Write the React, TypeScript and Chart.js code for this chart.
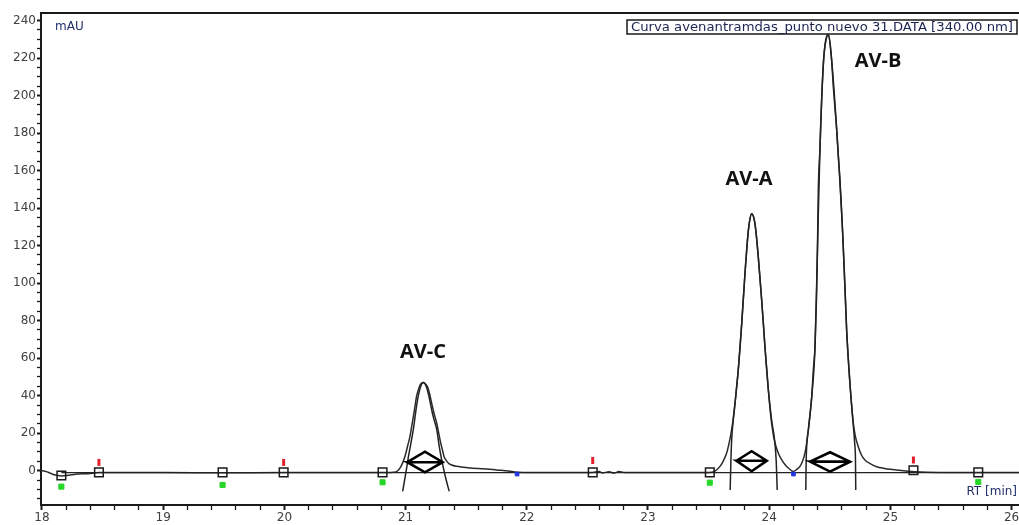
import React, { useEffect, useRef } from 'react';
import { Chart, registerables } from 'chart.js';

Chart.register(...registerables);

// ---------- data ----------
const traceX = [
  17.992, 18.0, 18.05, 18.1, 18.16, 18.22, 18.3, 18.38, 18.47, 18.7, 19.0, 19.5, 20.0, 20.5, 20.8, 20.9, 20.93,
  20.96, 20.995, 21.02, 21.036, 21.05, 21.064, 21.078, 21.09, 21.105, 21.12, 21.135, 21.146, 21.16, 21.18, 21.2, 21.215, 21.235, 21.257, 21.275, 21.29,
  21.305, 21.317, 21.335, 21.352, 21.38, 21.42, 21.48, 21.53, 21.6, 21.67, 21.75, 21.85, 21.92, 22.2, 22.54, 22.6, 22.62, 22.68, 22.72, 22.76, 22.8, 23.2, 23.5, 23.55,
  23.594, 23.62, 23.649, 23.67, 23.69, 23.705, 23.718, 23.73, 23.745, 23.76, 23.773, 23.787, 23.8, 23.815, 23.828, 23.842, 23.856, 23.87, 23.883, 23.897,
  23.91, 23.924, 23.938, 23.952, 23.965, 23.98, 23.993, 24.006, 24.02, 24.037, 24.056, 24.08, 24.103, 24.13, 24.158, 24.2, 24.23, 24.254, 24.275, 24.295,
  24.31, 24.323, 24.337, 24.351, 24.364, 24.378, 24.39, 24.398, 24.405, 24.419, 24.433, 24.447, 24.46, 24.474, 24.488, 24.5, 24.515, 24.529, 24.543, 24.557,
  24.57, 24.584, 24.596, 24.606, 24.615, 24.627, 24.639, 24.652, 24.666, 24.68, 24.694, 24.712, 24.735, 24.76, 24.79, 24.84, 24.887, 24.95, 24.997, 25.05,
  25.2, 25.4, 25.72, 26.061,
];
const traceY = [
  0, 0, -0.8, -2.2, -2.8, -2.4, -1.8, -1.6, -1.0, -1.0, -1.0, -1.1, -1.0, -1.0, -1.0, -0.8, -0.3,
  2, 7.6, 14, 18.2, 23.5, 28.8, 34.5, 39.5, 43, 45.7, 46.8, 47, 46.5, 44.8, 40.5, 36, 30.5, 25.3, 19.5, 14.7,
  10.8, 7.6, 5.5, 4.1, 3.0, 2.3, 1.8, 1.4, 1.1, 0.9, 0.4, -0.2, -0.8, -1.0, -1.0, -0.5, -1.2, -0.6, -1.3, -0.5, -1.0, -1.0, -1.0, -0.4,
  2.3, 5, 9.4, 15, 21.8, 28.5, 36, 44, 53.6, 66, 78.4, 92, 105, 118, 128, 134.5, 137, 135.5, 131.5, 123.5,
  113.8, 102.5, 90.8, 78.5, 66, 54, 43, 33.5, 25.3, 18, 12.9, 8.6, 5.8, 3.3, 1.4, -0.4, 0.8, 2.3, 5, 9.4,
  15, 21.7, 30, 39.5, 53.7, 66, 91, 117.7, 149.6, 172, 198, 217, 227, 231.5, 232.4, 229, 219, 204.7, 193, 181.7,
  168, 155, 140, 126.8, 114, 95, 75, 60, 46.6, 35, 25.3, 18, 12.8, 8.5, 5.7, 3.5, 2.1, 1.2, 0.7, 0.3,
  -0.6, -1.0, -1.0, -1.0,
];

const baselineX = [18.16, 26.061];
const baselineY = [-1, -1];

const fitCX = [20.976, 21.0, 21.025, 21.045, 21.064, 21.085, 21.105, 21.125, 21.146, 21.17, 21.195, 21.22, 21.24, 21.257, 21.28, 21.31, 21.335, 21.36];
const fitCY = [-11, -2, 8, 15, 22, 32, 40, 45, 47, 45, 39, 31, 26, 22, 12, 2, -5, -11];

const fitAX = [23.678, 23.684, 23.69, 23.705, 23.72, 23.745, 23.773, 23.8, 23.828, 23.856, 23.883, 23.91, 23.938, 23.965, 23.993, 24.02, 24.045, 24.058, 24.066];
const fitAY = [-10.3, 5, 16, 28, 37, 54, 78, 105, 128, 137, 131.5, 114, 91, 66, 43, 27, 16, 5, -10.3];

const fitBX = [24.302, 24.305, 24.31, 24.323, 24.351, 24.378, 24.398, 24.419, 24.447, 24.47, 24.488, 24.515, 24.557, 24.606, 24.639, 24.666, 24.69, 24.706, 24.712, 24.714];
const fitBY = [-10.3, 5, 14, 21.7, 39.5, 66, 117, 172, 217, 230, 232.4, 219, 181.7, 126.8, 75, 46.6, 27, 14, 5, -10.3];

const diamondCX = [21.014, 21.16, 21.306, 21.16, 21.014, 21.306];
const diamondCY = [4.5, 10.1, 4.5, -0.9, 4.5, 4.5];
const diamondAX = [23.73, 23.855, 23.98, 23.855, 23.73, 23.98];
const diamondAY = [5.3, 10.4, 5.3, -0.3, 5.3, 5.3];
const diamondBX = [24.337, 24.502, 24.667, 24.502, 24.337, 24.667];
const diamondBY = [4.8, 9.8, 4.8, -0.5, 4.8, 4.8];

const squareX = [18.16, 18.47, 19.49, 19.994, 20.81, 22.544, 23.51, 25.19, 25.725];
const squareY = [-2.6, -0.9, -0.9, -0.9, -0.9, -0.9, -0.9, 0.2, -0.9];
const greenX = [18.16, 19.49, 20.81, 23.51, 25.725];
const greenY = [-8.5, -7.6, -6.2, -6.4, -6.0];
const redX = [18.47, 19.994, 22.544, 25.19];
const redY = [4.4, 4.4, 5.4, 5.7];
const blueX = [21.92, 24.2];
const blueY = [-1.8, -1.8];

const xTickLabels = [18, 19, 20, 21, 22, 23, 24, 25, 26];
const yTickLabels = [0, 20, 40, 60, 80, 100, 120, 140, 160, 180, 200, 220, 240];

const peakLabels = ['AV-C', 'AV-A', 'AV-B'];
const legendText = 'Curva avenantramdas_punto nuevo 31.DATA [340.00 nm]';

// ---------- helpers ----------
const pts = (xs: number[], ys: number[]) => xs.map((x, i) => ({ x, y: ys[i] }));

const INK = '#1a1a1a';
const TICK_TEXT = '#404040';
const AXIS_TITLE = '#22306a';

const peakLabelPos = [
  { x: 21.144, y: 63 },
  { x: 23.833, y: 155.5 },
  { x: 24.898, y: 218 },
];

const overlayPlugin = {
  id: 'overlay',
  afterDraw(chart: any) {
    const { ctx, chartArea: a, scales } = chart;
    ctx.save();
    // top frame line
    ctx.strokeStyle = INK;
    ctx.lineWidth = 2;
    ctx.beginPath();
    ctx.moveTo(a.left, a.top);
    ctx.lineTo(a.right, a.top);
    ctx.stroke();

    // axis titles
    ctx.fillStyle = AXIS_TITLE;
    ctx.font = '12px "DejaVu Sans"';
    ctx.textBaseline = 'middle';
    ctx.textAlign = 'left';
    ctx.fillText('mAU', a.left + 14, a.top + 14);
    ctx.textAlign = 'right';
    ctx.fillText('RT [min]', a.right - 2, a.bottom - 13);

    // legend box (top right)
    const bw = 390, bh = 14;
    const bx = a.right - 2 - bw, by = a.top + 7;
    ctx.fillStyle = '#ffffff';
    ctx.fillRect(bx, by, bw, bh);
    ctx.strokeStyle = INK;
    ctx.lineWidth = 1.5;
    ctx.strokeRect(bx, by, bw, bh);
    ctx.font = '12px "DejaVu Sans"';
    const tw = ctx.measureText(legendText).width;
    const target = bw - 8;
    ctx.save();
    ctx.translate(bx + 4, by + bh / 2 + 0.5);
    ctx.scale(target / tw, 1);
    ctx.fillStyle = '#1b2450';
    ctx.textAlign = 'left';
    ctx.textBaseline = 'middle';
    ctx.fillText(legendText, 0, 0);
    ctx.restore();

    // peak labels
    ctx.fillStyle = '#111';
    ctx.font = 'bold 20px "Open Sans"';
    ctx.textAlign = 'center';
    ctx.textBaseline = 'middle';
    peakLabels.forEach((t, i) => {
      const p = peakLabelPos[i];
      ctx.fillText(t, scales.x.getPixelForValue(p.x), scales.y.getPixelForValue(p.y));
    });
    ctx.restore();
  },
};

export default function App() {
  const ref = useRef<HTMLCanvasElement>(null);

  useEffect(() => {
    const canvas = ref.current;
    if (!canvas) return;

    const lineDs = (data: any[], width: number, color: string, extra: any = {}) => ({
      type: 'line' as const,
      data,
      borderColor: color,
      borderWidth: width,
      pointRadius: 0,
      fill: false,
      tension: 0,
      ...extra,
    });

    const chart = new Chart(canvas, {
      type: 'line',
      data: {
        datasets: [
          {
            type: 'scatter',
            data: pts(blueX, blueY),
            pointStyle: 'rect',
            pointRadius: 2.6,
            backgroundColor: '#1f35e0',
            borderColor: '#1f35e0',
            borderWidth: 1,
          } as any,
          {
            type: 'scatter',
            data: pts(redX, redY),
            pointStyle: 'line',
            rotation: 90,
            pointRadius: 3.5,
            borderColor: '#e3202a',
            borderWidth: 3,
          } as any,
          {
            type: 'scatter',
            data: pts(greenX, greenY),
            pointStyle: 'rect',
            pointRadius: 3.6,
            backgroundColor: '#27d627',
            borderColor: '#27d627',
            borderWidth: 1,
          } as any,
          {
            type: 'scatter',
            data: pts(squareX, squareY),
            pointStyle: 'rect',
            pointRadius: 6.1,
            backgroundColor: 'rgba(255,255,255,0)',
            borderColor: INK,
            borderWidth: 1.5,
          } as any,
          lineDs(pts(diamondCX, diamondCY), 2.6, '#000'),
          lineDs(pts(diamondAX, diamondAY), 2.6, '#000'),
          lineDs(pts(diamondBX, diamondBY), 2.6, '#000'),
          lineDs(pts(fitCX, fitCY), 1.5, '#222', { cubicInterpolationMode: 'monotone' }),
          lineDs(pts(fitAX, fitAY), 1.5, '#222', { cubicInterpolationMode: 'monotone' }),
          lineDs(pts(fitBX, fitBY), 1.5, '#222', { cubicInterpolationMode: 'monotone' }),
          lineDs(pts(baselineX, baselineY), 1.3, '#222'),
          lineDs(pts(traceX, traceY), 1.5, '#2a2a2a', { cubicInterpolationMode: 'monotone' }),
        ],
      },
      options: {
        animation: false,
        responsive: false,
        devicePixelRatio: 1,
        parsing: false as any,
        layout: { autoPadding: false, padding: { top: 13, left: 0, right: 0, bottom: 0 } },
        plugins: {
          legend: { display: false },
          tooltip: { enabled: false },
        },
        scales: {
          x: {
            type: 'linear',
            position: 'bottom',
            min: 17.992,
            max: 26.061,
            afterBuildTicks: (scale: any) => {
              const t: any[] = [];
              for (let i = 0; i <= 40; i++) t.push({ value: 18 + i / 5 });
              scale.ticks = t;
            },
            afterFit: (scale: any) => {
              scale.height = 20;
              scale.paddingLeft = 0;
              scale.paddingRight = 0;
            },
            ticks: {
              autoSkip: false,
              maxRotation: 0,
              minRotation: 0,
              padding: 1,
              color: TICK_TEXT,
              font: { family: '"DejaVu Sans"', size: 12 },
              callback: (v: any) => (xTickLabels.includes(v) ? String(v) : ''),
            },
            grid: {
              drawOnChartArea: false,
              drawTicks: true,
              tickLength: 5,
              tickColor: INK,
              tickWidth: (ctx: any) => (ctx.tick && Number.isInteger(ctx.tick.value) ? 2 : 1.3),
            },
            border: { display: true, color: INK, width: 2 },
          },
          y: {
            type: 'linear',
            position: 'left',
            min: -18.3,
            max: 244,
            afterBuildTicks: (scale: any) => {
              const t: any[] = [];
              for (let v = -15; v <= 240; v += 5) t.push({ value: v });
              scale.ticks = t;
            },
            afterFit: (scale: any) => {
              scale.width = 41;
              scale.paddingTop = 0;
              scale.paddingBottom = 0;
            },
            ticks: {
              autoSkip: false,
              padding: 1,
              color: TICK_TEXT,
              font: { family: '"DejaVu Sans"', size: 12 },
              callback: (v: any) => (yTickLabels.includes(v) ? String(v) : ''),
            },
            grid: {
              drawOnChartArea: false,
              drawTicks: true,
              tickLength: 4,
              tickColor: INK,
              tickWidth: (ctx: any) => (ctx.tick && ctx.tick.value % 20 === 0 ? 2 : 1.3),
            },
            border: { display: true, color: INK, width: 2 },
          },
        },
      } as any,
      plugins: [overlayPlugin],
    });

    return () => chart.destroy();
  }, []);

  return (
    <div style={{ position: 'fixed', left: 0, top: 0, width: 1019, height: 525, background: '#fff' }}>
      <canvas ref={ref} width={1019} height={525} style={{ display: 'block', width: 1019, height: 525 }} />
    </div>
  );
}
